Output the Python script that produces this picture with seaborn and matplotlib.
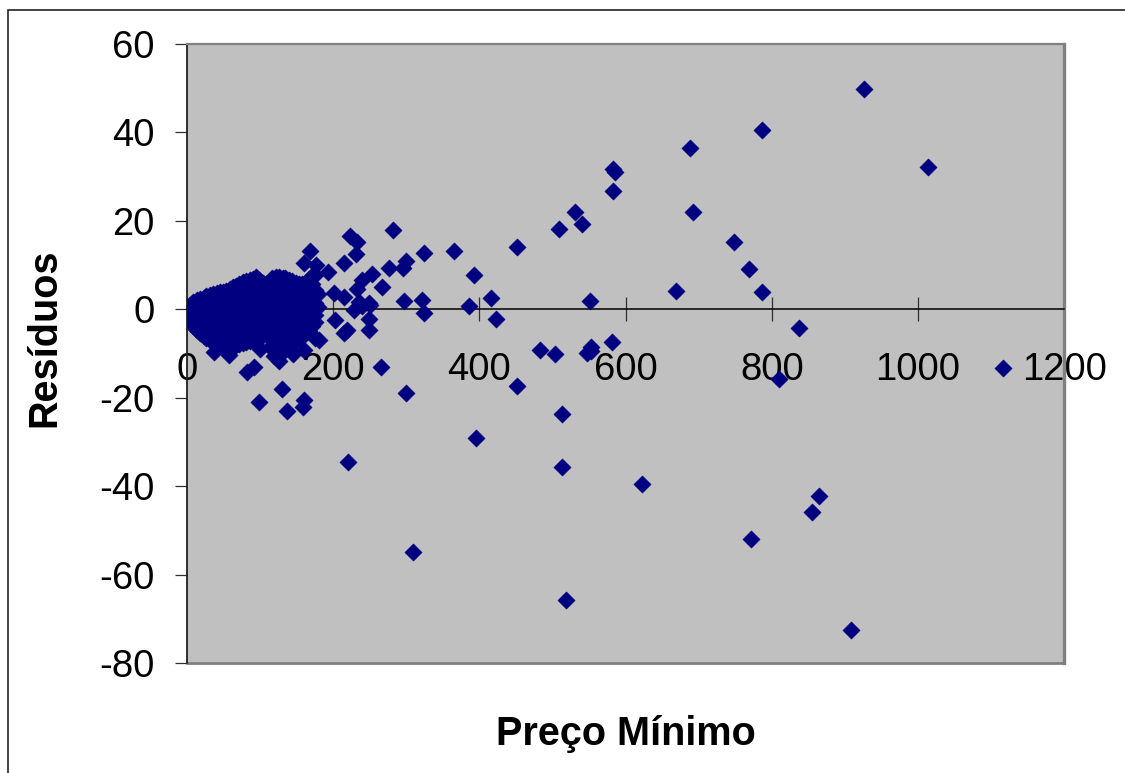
import matplotlib
matplotlib.use("Agg")
import matplotlib.pyplot as plt
from matplotlib.patches import Rectangle
from matplotlib.lines import Line2D
import pandas as pd
import seaborn as sns

# Scattered observations (minimum price, residual)
sparse_price = [926, 786.5, 688, 1014, 583, 586, 583, 692, 531, 540, 509, 452,
                749, 366, 325, 299.5, 295.4, 393, 769, 669, 787, 551, 415.6,
                385.4, 322, 297, 325, 422.7, 837.5, 581.5, 483.7, 503, 553, 548,
                553, 265, 451, 299.5, 513.7, 395, 221, 513, 623, 310, 518, 810,
                1116, 864.3, 855.6, 771, 908,
                223, 233, 282, 168.5, 231, 215, 160, 177, 254, 240, 277, 267,
                233, 201, 215, 235, 249, 228.6, 202.6, 249, 249, 219.5, 215,
                176, 130.7, 160, 159.4, 137.6, 98.8, 83, 92, 37.3, 57.8, 126,
                160, 180.7, 240, 251, 193, 114, 120, 145, 100]
sparse_resid = [49.7, 40.4, 36.5, 32.1, 31.8, 31.0, 26.8, 22.0, 21.9, 19.3, 18.1,
                14.1, 15.1, 13.2, 12.6, 10.9, 9.3, 7.7, 9.0, 4.2, 3.8, 1.9, 2.5,
                0.7, 2.1, 1.8, -0.9, -2.2, -4.2, -7.3, -9.3, -10.2, -8.6, -9.9,
                -9.4, -13.1, -17.3, -19.0, -23.7, -29.0, -34.6, -35.7, -39.5,
                -54.8, -65.7, -15.7, -13.3, -42.1, -45.9, -52.0, -72.4,
                16.6, 15.3, 17.8, 13.2, 12.5, 10.4, 10.4, 10.0, 8.0, 6.6, 9.4,
                5.1, 4.5, 3.6, 2.8, 1.7, 1.4, -0.1, -2.4, -2.3, -4.8, -4.7, -5.4,
                -6.6, -18.1, -20.5, -22.0, -23.1, -20.9, -14.1, -13.0, -9.6,
                -10.3, -11.8, -9.2, -6.9, 0.7, 1.0, 8.4, -8.6, -10.5, -10.0, -9.0]

# Dense group of low-price items, listed price by price
dense_price = [0, 2, 5, 9, 14, 18, 23, 27, 32, 36, 41, 45, 50, 54, 59, 63, 68,
               72, 77, 81, 86, 90, 95, 99, 104, 108, 113, 117, 122, 126, 131,
               135, 140, 144, 149, 153, 158, 162, 167, 171, 176, 180]
dense_resid = [
    [-0.8, 0.3], [-0.2], [-2.6, 0.9], [-3.8, -1.0, 1.6],
    [-4.6, -1.9, 1.1, 2.0], [-5.3, -2.4, 0.4, 2.3], [-6.0, -3.1, -0.2, 2.6],
    [-6.6, -3.8, -0.9, 1.9, 2.9], [-7.0, -4.3, -1.4, 1.5, 3.2],
    [-7.3, -5.6, -2.7, 0.2, 3.1, 3.5], [-7.6, -4.4, -1.5, 1.4, 3.7],
    [-7.9, -5.8, -2.9, 0.1, 2.9, 3.8], [-8.1, -4.4, -1.5, 1.5, 4.0],
    [-8.4, -5.8, -2.9, 0.0, 2.8, 4.2], [-8.3, -4.4, -1.5, 1.4, 4.5],
    [-8.2, -5.9, -3.0, 0.0, 3.0, 5.0], [-8.0, -4.5, -1.6, 1.3, 4.2, 5.3],
    [-7.9, -5.9, -3.0, -0.1, 2.8, 5.7], [-7.7, -4.5, -1.5, 1.5, 4.4, 6.1],
    [-7.5, -6.0, -3.0, 0.0, 3.0, 6.3], [-7.2, -4.6, -1.6, 1.4, 4.3, 6.7],
    [-6.9, -5.9, -3.1, -0.1, 2.9, 5.8, 6.9], [-6.6, -4.4, -1.5, 1.5, 4.4, 7.2],
    [-6.3, -3.0, 0.0, 3.0, 5.9, 6.6], [-5.9, -4.4, -1.5, 1.4, 4.3, 6.0],
    [-5.6, -3.0, 0.0, 2.9, 5.8], [-5.7, -4.4, -1.5, 1.5, 4.4, 6.2],
    [-6.8, -3.0, 0.0, 3.0, 5.9, 7.0], [-7.7, -4.5, -1.5, 1.4, 4.3, 7.3],
    [-8.5, -5.9, -3.0, 0.0, 2.9, 5.8, 7.2],
    [-9.1, -7.4, -4.4, -1.5, 1.5, 4.4, 7.1],
    [-9.2, -5.9, -3.0, 0.0, 3.0, 5.9, 7.0],
    [-8.6, -7.4, -4.5, -1.5, 1.5, 4.4, 6.6],
    [-7.9, -5.9, -3.0, 0.0, 2.9, 5.8, 6.3],
    [-7.0, -4.5, -1.5, 1.4, 4.3, 5.9], [-6.4, -3.0, 0.0, 2.9, 5.7],
    [-6.0, -4.4, -1.5, 1.5, 4.4, 5.8], [-5.6, -3.0, 0.0, 3.0, 5.6],
    [-4.9, -1.5, 1.4, 4.3, 6.8], [-3.8, -0.1, 2.9, 5.8, 7.4],
    [-2.9, -1.4, 1.5, 4.4, 7.7], [0.5, 3.5],
]

x_ticks = [0, 200, 400, 600, 800, 1000, 1200]
y_ticks = [-80, -60, -40, -20, 0, 20, 40, 60]
x_title = "Preço Mínimo"
y_title = "Resíduos"

rows = [(p, r) for p, r in zip(sparse_price, sparse_resid)]
for p, col in zip(dense_price, dense_resid):
    rows.extend((p, r) for r in col)
df = pd.DataFrame(rows, columns=["preco", "residuo"])

plt.rcParams["font.family"] = ["Liberation Sans", "DejaVu Sans"]
plt.rcParams["axes.unicode_minus"] = False

W, H = 1125, 773
fig = plt.figure(figsize=(W / 100, H / 100), dpi=100)
fig.patch.set_facecolor("white")

left, right, top, bottom = 186.7, 1064.3, 43.7, 663.3
ax = fig.add_axes([left / W, 1 - bottom / H, (right - left) / W, (bottom - top) / H])
ax.set_facecolor("#C0C0C0")

sns.scatterplot(data=df, x="preco", y="residuo", ax=ax, marker="D", s=78,
                color="#000080", edgecolor="#000080", linewidth=0.3, zorder=3,
                legend=False)

ax.set_xlim(0, 1200)
ax.set_ylim(-80, 60)
ax.set_xticks(x_ticks)
ax.set_yticks(y_ticks)
ax.set_xlabel("")
ax.set_ylabel("")

# Frame: y axis on the left, x axis through zero, grey plot border
ax.spines["bottom"].set_position(("data", 0))
ax.spines["bottom"].set_color("black")
ax.spines["bottom"].set_linewidth(1.1)
ax.spines["left"].set_color("#202020")
ax.spines["left"].set_linewidth(1.3)
ax.spines["top"].set_color("#808080")
ax.spines["top"].set_linewidth(1.6)
ax.spines["right"].set_color("#808080")
ax.spines["right"].set_linewidth(2.4)
ax.add_line(Line2D([0, 1], [0, 0], transform=ax.transAxes, color="#808080",
                   linewidth=2.0, clip_on=False, zorder=2.4))

ax.tick_params(axis="x", direction="inout", length=17, width=0.9,
               color="#303030", pad=22, labelsize=27.5)
ax.tick_params(axis="y", direction="out", length=8.6, width=0.9,
               color="#303030", pad=14.4, labelsize=27.5)

fig.text(626 / W, 1 - 745 / H, x_title, ha="center", va="baseline",
         fontsize=28.5, fontweight="bold")
fig.text(44.5 / W, 1 - 338 / H, y_title, ha="center", va="center",
         rotation=90, fontsize=28.5, fontweight="bold")

# Outer chart frame
fig.add_artist(Rectangle((8.3 / W, -0.1), 1.2, 1.1 - 10.3 / H,
                         transform=fig.transFigure, fill=False,
                         edgecolor="#101010", linewidth=1.1))

fig.savefig("out.png", dpi=100)
